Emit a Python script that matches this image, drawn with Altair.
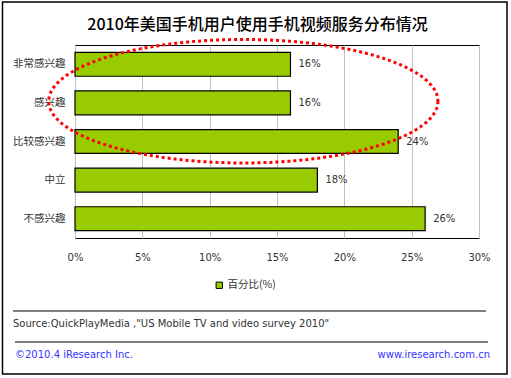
import altair as alt
import pandas as pd
import numpy as np

categories = ["非常感兴趣", "感兴趣", "比较感兴趣", "中立", "不感兴趣"]
values = [16, 16, 24, 18, 26]
series_name = "百分比(%)"
x_ticks = [0, 5, 10, 15, 20, 25, 30]

title_text = "2010年美国手机用户使用手机视频服务分布情况"
source_text = 'Source:QuickPlayMedia ,"US Mobile TV and video survey 2010"'
footer_left = "©2010.4  iResearch Inc."
footer_right = "www.iresearch.com.cn"

df = pd.DataFrame({
    "cat": categories,
    "val": values,
    "label": [f"{v}%" for v in values],
    "series": [series_name] * len(values),
})

# decorative ellipse annotation (in data units: x in %, y in band-index units)
t = np.linspace(0, 2 * np.pi, 241)
ell = pd.DataFrame({
    "ex": 12.5 + 14.45 * np.cos(t),
    "ey": 1.456 + 1.6 * np.sin(t),
    "o": np.arange(len(t)),
})

OX, OY = 75, 45  # plot origin in the page

x_enc = alt.X("val:Q", scale=alt.Scale(domain=[0, 30], nice=False),
              axis=alt.Axis(values=x_ticks, labelExpr="datum.value + '%'", title=None,
                            grid=True, gridColor="#c0c0c0", ticks=False, domain=False,
                            labelFlush=False, labelOverlap=False,
                            labelPadding=14, labelFont="DejaVu Sans", labelFontSize=10,
                            labelColor="#333333"))

bars = alt.Chart(df).mark_bar(stroke="black", strokeWidth=1.2).encode(
    x=x_enc,
    y=alt.Y("cat:N", sort=categories,
            scale=alt.Scale(paddingInner=0.38, paddingOuter=0.19),
            axis=alt.Axis(title=None, ticks=False, domain=False, labelPadding=10,
                          labelFont="Noto Sans CJK SC", labelFontSize=10.5,
                          labelColor="#333333")),
    color=alt.Color("series:N", scale=alt.Scale(range=["#99cc00"]),
                    legend=alt.Legend(title=None, orient="none", legendX=139, legendY=235,
                                      symbolType="square", symbolSize=40,
                                      symbolStrokeColor="black", symbolStrokeWidth=1,
                                      labelFont="Noto Sans CJK SC", labelFontSize=10.5,
                                      labelColor="#333333", symbolOffset=0, labelOffset=3)),
)

labels = alt.Chart(df).mark_text(align="left", dx=8, font="DejaVu Sans", fontSize=10,
                                 color="#333333").encode(
    x="val:Q",
    y=alt.Y("cat:N", sort=categories,
            scale=alt.Scale(paddingInner=0.38, paddingOuter=0.19), axis=None),
    text="label:N",
)

ellipse = alt.Chart(ell).mark_line(color="#ff0000", strokeWidth=3, strokeDash=[3, 3],
                                   clip=False).encode(
    x="ex:Q",
    y=alt.Y("ey:Q", scale=alt.Scale(domain=[0, 5], reverse=True, nice=False, zero=False),
            axis=None),
    order="o:Q",
)

title = alt.Chart(pd.DataFrame({"t": [title_text]})).mark_text(
    font="Noto Sans CJK SC", fontSize=16, fontWeight=500, color="black",
    align="center", baseline="middle").encode(
    x=alt.value(257.5 - OX), y=alt.value(25 - OY), text="t:N")

rules = alt.Chart(pd.DataFrame({"a": [311 - OY, 342 - OY], "x1": [13 - OX, 15 - OX],
                                "x2": [486 - OX, 488 - OX]})).mark_rule(
    color="black", strokeWidth=1).encode(
    x=alt.X("x1:Q", scale=None), x2="x2:Q", y=alt.Y("a:Q", scale=None))

src = alt.Chart(pd.DataFrame({"t": [source_text]})).mark_text(
    font="DejaVu Sans", fontSize=10, color="#333333", align="left", baseline="middle").encode(
    x=alt.value(13 - OX), y=alt.value(324 - OY), text="t:N")

fl = alt.Chart(pd.DataFrame({"t": [footer_left]})).mark_text(
    font="DejaVu Sans", fontSize=10, color="#3333ff", align="left", baseline="middle").encode(
    x=alt.value(15 - OX), y=alt.value(355 - OY), text="t:N")

fr = alt.Chart(pd.DataFrame({"t": [footer_right]})).mark_text(
    font="DejaVu Sans", fontSize=10, color="#3333ff", align="right", baseline="middle").encode(
    x=alt.value(490 - OX), y=alt.value(355 - OY), text="t:N")

border = alt.Chart(pd.DataFrame({"k": [0]})).mark_rect(
    filled=False, stroke="black", strokeWidth=1.5).encode(
    x=alt.value(2.5 - OX), x2=alt.value(507 - OX), y=alt.value(2 - OY), y2=alt.value(374 - OY))

chart = alt.layer(bars, labels, ellipse, title, rules, src, fl, fr, border).resolve_scale(
    y="independent"
).properties(
    width=404, height=193,
    autosize=alt.AutoSizeParams(type="none"),
    padding={"left": OX, "top": OY, "right": 511 - OX - 404, "bottom": 378 - OY - 193},
    background="white",
).configure_view(stroke="black", strokeWidth=1)

chart.save("out.html", embed_options={"renderer": "svg", "actions": False})
